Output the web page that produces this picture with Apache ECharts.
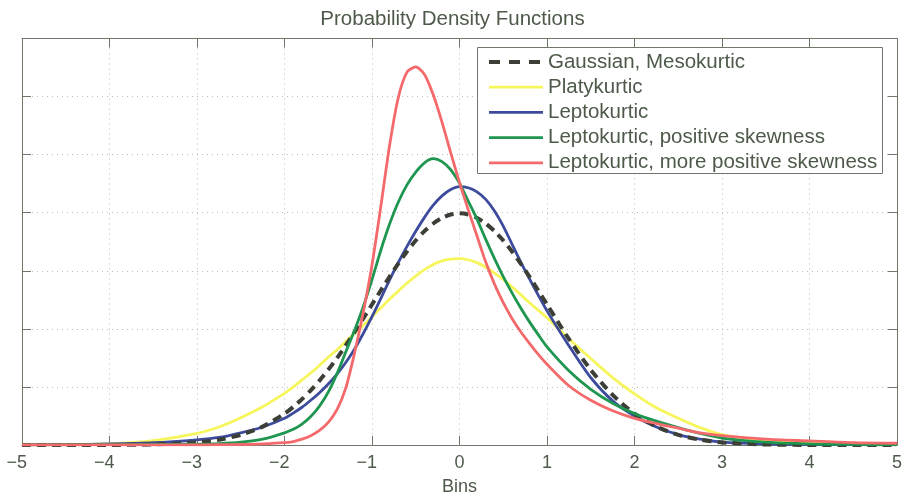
<!DOCTYPE html>
<html>
<head>
<meta charset="utf-8">
<title>Probability Density Functions</title>
<script src="https://cdn.jsdelivr.net/npm/echarts@6/dist/echarts.min.js"></script>
<style>
  html, body { margin: 0; padding: 0; background: #ffffff; }
  #chart { width: 905px; height: 501px; }
</style>
</head>
<body>
<div id="chart"></div>
<script>
// Sample positions along the x axis (bins)
const bins = [-5, -4.5, -4, -3.5, -3, -2.75, -2.5, -2.25,
  -2, -1.9, -1.8, -1.7, -1.6, -1.5, -1.4, -1.3, -1.2, -1.1,
  -1, -0.9, -0.8, -0.7, -0.6, -0.5, -0.4, -0.3, -0.2, -0.1,
  0, 0.1, 0.2, 0.3, 0.4, 0.5, 0.6, 0.7, 0.8, 0.9,
  1, 1.25, 1.5, 1.75, 2, 2.25, 2.5, 2.75, 3, 3.5, 4, 4.5, 5];

// Density of each distribution at the bins above
const gaussian = [0, 0, 0.0001, 0.0009, 0.0044, 0.0091, 0.0175, 0.0317,
  0.054, 0.0656, 0.079, 0.094, 0.1109, 0.1295, 0.1497, 0.1714, 0.1942, 0.2179,
  0.242, 0.2661, 0.2897, 0.3123, 0.3332, 0.3521, 0.3683, 0.3814, 0.391, 0.397,
  0.3989, 0.397, 0.391, 0.3814, 0.3683, 0.3521, 0.3332, 0.3123, 0.2897, 0.2661,
  0.242, 0.1826, 0.1295, 0.0863, 0.054, 0.0317, 0.0175, 0.0091, 0.0044, 0.0009, 0.0001, 0, 0];

const platykurtic = [0.0002, 0.0008, 0.002, 0.0075, 0.02, 0.031, 0.047, 0.066,
  0.089, 0.1, 0.112, 0.124, 0.137, 0.151, 0.164, 0.178, 0.192, 0.206,
  0.221, 0.236, 0.251, 0.265, 0.279, 0.291, 0.302, 0.311, 0.317, 0.32,
  0.321, 0.319, 0.314, 0.306, 0.296, 0.285, 0.272, 0.259, 0.245, 0.232,
  0.219, 0.183, 0.149, 0.116, 0.088, 0.064, 0.046, 0.03, 0.018, 0.007, 0.003, 0.001, 0.0005];

const leptokurtic = [0.0003, 0.0008, 0.0018, 0.004, 0.009, 0.013, 0.021, 0.031,
  0.046, 0.055, 0.065, 0.077, 0.09, 0.105, 0.122, 0.142, 0.165, 0.192,
  0.221, 0.252, 0.284, 0.314, 0.342, 0.368, 0.392, 0.413, 0.429, 0.44,
  0.445, 0.443, 0.436, 0.423, 0.403, 0.377, 0.346, 0.315, 0.286, 0.258,
  0.231, 0.171, 0.116, 0.076, 0.05, 0.031, 0.018, 0.01, 0.005, 0.002, 0.001, 0.0005, 0.0002];

const leptoSkew = [0.0003, 0.0004, 0.0006, 0.001, 0.0015, 0.0025, 0.005, 0.01,
  0.021, 0.027, 0.036, 0.049, 0.067, 0.091, 0.123, 0.16, 0.197, 0.238,
  0.285, 0.335, 0.38, 0.418, 0.448, 0.47, 0.486, 0.493, 0.488, 0.474,
  0.451, 0.42, 0.389, 0.354, 0.321, 0.29, 0.262, 0.236, 0.212, 0.19,
  0.169, 0.128, 0.096, 0.072, 0.054, 0.041, 0.03, 0.02, 0.012, 0.005, 0.002, 0.001, 0.0005];

const leptoSkewMore = [0.0001, 0.0001, 0.0001, 0.0002, 0.0003, 0.0005, 0.001, 0.002,
  0.004, 0.006, 0.01, 0.016, 0.025, 0.039, 0.061, 0.098, 0.158, 0.228,
  0.31, 0.41, 0.515, 0.598, 0.642, 0.651, 0.638, 0.603, 0.556, 0.503,
  0.452, 0.405, 0.36, 0.315, 0.277, 0.245, 0.218, 0.195, 0.175, 0.156,
  0.139, 0.102, 0.077, 0.059, 0.046, 0.037, 0.029, 0.021, 0.016, 0.01, 0.007, 0.004, 0.003];

const seriesNames = [
  'Gaussian, Mesokurtic',
  'Platykurtic',
  'Leptokurtic',
  'Leptokurtic, positive skewness',
  'Leptokurtic, more positive skewness'
];

const FONT = "'Liberation Sans', Arial, Helvetica, sans-serif";
const TEXT = '#4d5a4a';
const FRAME = '#6f776a';

// Legend keys: an invisible 54x14 frame (move-to points) holding a line sample
const KEY_SOLID = 'path://M0,0M54,14M0,5.6h54v2.8h-54z';
const KEY_DASHED = 'path://M0,0M54,14M0,5h11v4h-11zM20,5h11v4h-11zM40,5h11v4h-11z';

const pairs = vals => bins.map((x, i) => [x, vals[i]]);

function curve(name, vals, color, width, type, z) {
  return {
    name: name,
    type: 'line',
    data: pairs(vals),
    showSymbol: false,
    symbol: 'none',
    smooth: 0.25,
    z: z,
    lineStyle: { color: color, width: width, type: type, join: 'round', cap: 'butt' },
    itemStyle: { color: color },
    emphasis: { disabled: true }
  };
}

const gridLine = { show: true, lineStyle: { color: '#b9bdb5', width: 1, type: [1, 4] } };

const tickFmt = v => v < 0 ? '\u2212' + Math.abs(v) + '{g|\u2212}' : String(v);

const chart = echarts.init(document.getElementById('chart'), null, { renderer: 'canvas' });

chart.setOption({
  animation: false,
  backgroundColor: '#ffffff',
  textStyle: { fontFamily: FONT },
  title: {
    text: 'Probability Density Functions',
    left: 'center',
    top: 4,
    textStyle: { fontFamily: FONT, fontSize: 20.5, fontWeight: 'normal', color: TEXT }
  },
  graphic: [{
    type: 'rect',
    left: 477, top: 47,
    shape: { width: 405, height: 126 },
    style: { fill: '#ffffff', stroke: FRAME, lineWidth: 1 },
    z: 50
  }],
  legend: {
    data: [
      { name: seriesNames[0], icon: KEY_DASHED },
      { name: seriesNames[1], icon: KEY_SOLID },
      { name: seriesNames[2], icon: KEY_SOLID },
      { name: seriesNames[3], icon: KEY_SOLID },
      { name: seriesNames[4], icon: KEY_SOLID }
    ],
    orient: 'vertical',
    left: 489,
    top: 51.5,
    padding: 0,
    itemWidth: 54,
    itemHeight: 14,
    itemGap: 4.2,
    z: 60,
    selectedMode: false,
    textStyle: { fontFamily: FONT, fontSize: 20.5, color: TEXT, lineHeight: 20 }
  },
  grid: { left: 22, right: 6, top: 38.5, bottom: 50.3, containLabel: false },
  xAxis: [{
    type: 'value', min: -5, max: 5, interval: 1, position: 'bottom',
    name: 'Bins', nameLocation: 'middle', nameGap: 33,
    nameTextStyle: { fontFamily: FONT, fontSize: 18, color: TEXT },
    axisLine: { show: true, onZero: false, lineStyle: { color: FRAME, width: 1 } },
    axisTick: { show: true, inside: true, length: 9, lineStyle: { color: FRAME } },
    axisLabel: {
      margin: 9, fontFamily: FONT, fontSize: 18, color: TEXT,
      formatter: tickFmt,
      rich: { g: { fontFamily: FONT, fontSize: 18, color: 'rgba(0,0,0,0)' } }
    },
    splitLine: gridLine
  }, {
    type: 'value', min: -5, max: 5, interval: 1, position: 'top',
    axisLine: { show: true, onZero: false, lineStyle: { color: FRAME, width: 1 } },
    axisTick: { show: true, inside: true, length: 9, lineStyle: { color: FRAME } },
    axisLabel: { show: false },
    splitLine: { show: false }
  }],
  yAxis: [{
    type: 'value', min: 0, max: 0.7, interval: 0.1, position: 'left',
    axisLine: { show: true, onZero: false, lineStyle: { color: FRAME, width: 1 } },
    axisTick: { show: true, inside: true, length: 9, lineStyle: { color: FRAME } },
    axisLabel: { show: false },
    splitLine: gridLine
  }, {
    type: 'value', min: 0, max: 0.7, interval: 0.1, position: 'right',
    axisLine: { show: true, onZero: false, lineStyle: { color: FRAME, width: 1 } },
    axisTick: { show: true, inside: true, length: 9, lineStyle: { color: FRAME } },
    axisLabel: { show: false },
    splitLine: { show: false }
  }],
  series: [
    curve(seriesNames[1], platykurtic, '#f6f65c', 2.8, 'solid', 2),
    curve(seriesNames[2], leptokurtic, '#3d4b9c', 2.8, 'solid', 3),
    curve(seriesNames[0], gaussian, '#3b3f36', 4, [9, 6], 4),
    curve(seriesNames[3], leptoSkew, '#1f9650', 2.8, 'solid', 5),
    curve(seriesNames[4], leptoSkewMore, '#f46a6c', 2.8, 'solid', 6)
  ]
});
</script>
</body>
</html>
